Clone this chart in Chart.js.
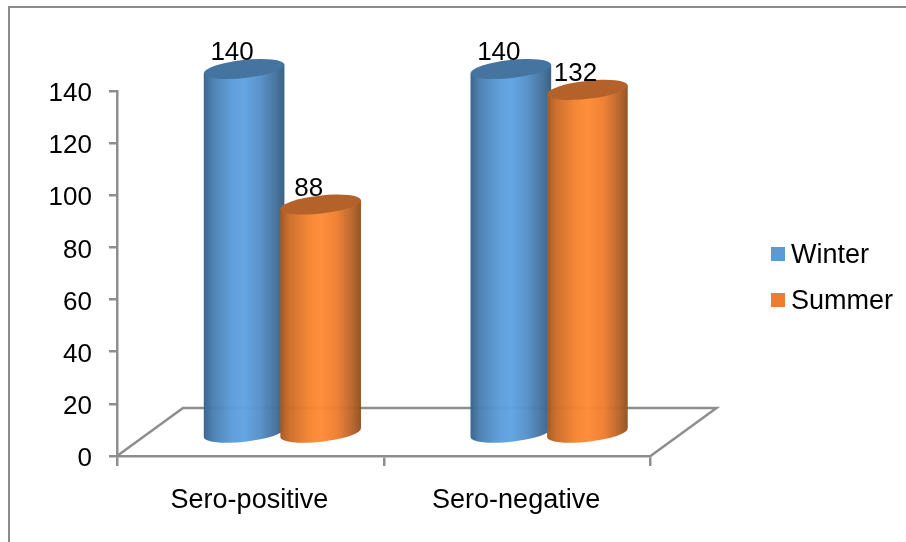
<!DOCTYPE html>
<html><head><meta charset="utf-8">
<style>html,body{margin:0;padding:0;background:#fff}canvas{display:block}</style>
<script src="https://cdn.jsdelivr.net/npm/chart.js@4/dist/chart.umd.min.js"></script>
</head><body><canvas id="c" width="906" height="542"></canvas>
<script>
const categories = ["Sero-positive", "Sero-negative"];
const winter = [140, 140];
const summer = [88, 132];
const yTicks = [0, 20, 40, 60, 80, 100, 120, 140];

const FONT = '"Liberation Sans", Arial, sans-serif';
const AXIS = '#8e8e8e';
const DX = 32, DY = -22, DEPTH_X = 66, DEPTH_Y = -48, TILT = 6.4 * Math.PI / 180, RY = 9;
const STOPS = [0, .12, .35, .5, .7, .9, 1];
const LOOKS = [
  {stops: ['#34618a', '#4a80b3', '#5c9cd9', '#60a3e2', '#5690c8', '#436f99', '#355d80'], cap: '#44749f'},
  {stops: ['#a8581f', '#cc6c29', '#f5832f', '#ff8b36', '#ef7e30', '#b5622a', '#8f4f1e'], cap: '#b5612a'}
];

const cylinders = {
  id: 'cylinders',
  beforeDraw(chart) {
    const {ctx} = chart;
    ctx.save();
    ctx.fillStyle = '#fff';
    ctx.fillRect(0, 0, chart.width, chart.height);
    ctx.strokeStyle = '#8c8c8c';
    ctx.lineWidth = 2;
    ctx.strokeRect(9, 7, 1000, 1000);
    ctx.restore();
  },
  afterLayout(chart) {
    const l = chart.legend;
    const w = l.width;
    l.left = 771 - 19; l.right = l.left + w; l.top = 221.5; l.bottom = 400; l.height = l.bottom - l.top;
  },
  beforeDatasetsDraw(chart) {
    const {ctx, chartArea: a} = chart;
    ctx.save();
    ctx.strokeStyle = AXIS;
    ctx.lineWidth = 2.5;
    ctx.beginPath();
    ctx.moveTo(a.left, a.bottom);
    ctx.lineTo(a.left + DEPTH_X, a.bottom + DEPTH_Y);
    ctx.lineTo(a.right + DEPTH_X, a.bottom + DEPTH_Y);
    ctx.lineTo(a.right, a.bottom);
    ctx.stroke();
    ctx.restore();
  },
  beforeDatasetDraw() { return false; },
  afterDatasetsDraw(chart) {
    const {ctx} = chart;
    const cosT = Math.cos(TILT), sinT = Math.sin(TILT);
    chart.data.datasets.forEach((ds, di) => {
      const look = LOOKS[di];
      chart.getDatasetMeta(di).data.forEach((bar) => {
        const cx = bar.x + DX, top = bar.y + DY, bot = bar.base + DY, rx = bar.width / 2;
        const g = ctx.createLinearGradient(cx - rx, 0, cx + rx, 0);
        STOPS.forEach((p, i) => g.addColorStop(p, look.stops[i]));
        ctx.save();
        ctx.globalAlpha = 0.97;
        ctx.fillStyle = g;
        ctx.beginPath();
        ctx.moveTo(cx - rx * cosT, top + rx * sinT);
        ctx.lineTo(cx + rx * cosT, top - rx * sinT);
        ctx.lineTo(cx + rx * cosT, bot - rx * sinT);
        ctx.ellipse(cx, bot, rx, RY, -TILT, 0, Math.PI);
        ctx.closePath();
        ctx.fill();
        ctx.globalAlpha = 1;
        ctx.fillStyle = look.cap;
        ctx.beginPath();
        ctx.ellipse(cx, top, rx, RY, -TILT, 0, Math.PI * 2);
        ctx.fill();
        ctx.restore();
      });
    });
    ctx.save();
    ctx.fillStyle = '#000';
    ctx.font = '26px ' + FONT;
    ctx.textAlign = 'center';
    ctx.textBaseline = 'middle';
    chart.data.datasets.forEach((ds, di) => {
      chart.getDatasetMeta(di).data.forEach((bar, i) => {
        ctx.fillText(String(ds.data[i]), bar.x + DX - 12, bar.y + DY - 16);
      });
    });
    ctx.restore();
  },
  afterDraw(chart) {
    const {ctx} = chart;
    ctx.save();
    ctx.fillStyle = '#000';
    ctx.font = '27px ' + FONT;
    ctx.textAlign = 'left';
    ctx.textBaseline = 'middle';
    chart.data.datasets.forEach((ds, di) => {
      ctx.fillText(ds.label, 791, 255.5 + di * 46);
    });
    ctx.restore();
  }
};

new Chart(document.getElementById('c'), {
  type: 'bar',
  data: {
    labels: categories,
    datasets: [
      {label: 'Winter', data: winter, backgroundColor: '#5b9bd5', borderWidth: 0},
      {label: 'Summer', data: summer, backgroundColor: '#ed7d31', borderWidth: 0}
    ]
  },
  options: {
    responsive: false,
    animation: false,
    devicePixelRatio: 1,
    layout: {padding: {top: 91, left: 0, right: 199, bottom: 0}},
    datasets: {bar: {categoryPercentage: 0.574, barPercentage: 1.06}},
    plugins: {
      tooltip: {enabled: false},
      title: {display: false},
      legend: {
        position: 'right',
        align: 'start',
        labels: {
          boxWidth: 14, boxHeight: 14, padding: 19, color: '#000',
          font: {family: FONT, size: 27},
          generateLabels(chart) {
            return Chart.defaults.plugins.legend.labels.generateLabels(chart).map(it => ({...it, text: ''}));
          }
        }
      }
    },
    scales: {
      x: {
        type: 'category',
        afterFit(s) { s.height = 86; },
        grid: {offset: true, drawOnChartArea: false, color: AXIS, lineWidth: 2.5, tickLength: 10},
        border: {color: AXIS, width: 2.5},
        ticks: {color: '#000', padding: 18, labelOffset: -1, maxRotation: 0, font: {family: FONT, size: 27}}
      },
      y: {
        min: 0, max: 140,
        afterFit(s) { s.width = 117; },
        afterBuildTicks(s) { s.ticks = yTicks.map(v => ({value: v})); },
        grid: {drawOnChartArea: false, color: AXIS, lineWidth: 2.5, tickLength: 8},
        border: {color: AXIS, width: 2.5},
        ticks: {color: '#000', padding: 17, labelOffset: 3, font: {family: FONT, size: 26}}
      }
    }
  },
  plugins: [cylinders]
});
</script></body></html>
